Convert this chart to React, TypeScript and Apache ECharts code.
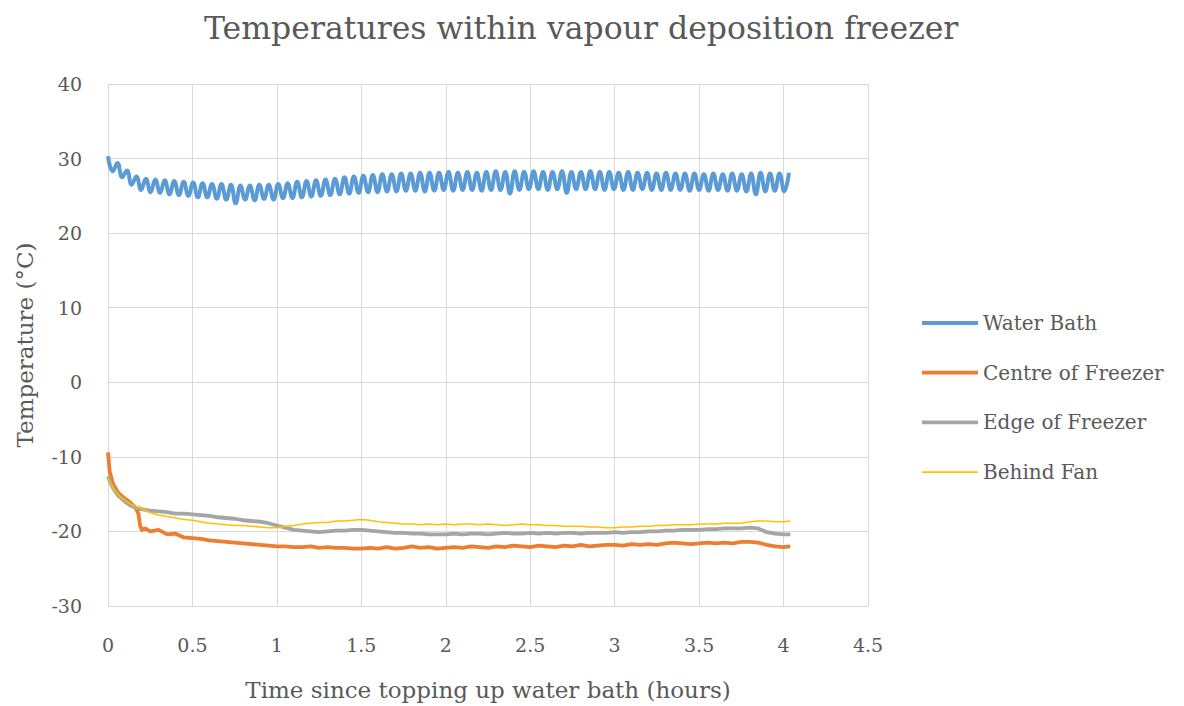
import React, { useEffect, useRef } from "react";
import * as echarts from "echarts";

// ---------------- data ----------------
const TITLE = "Temperatures within vapour deposition freezer";
const X_NAME = "Time since topping up water bath (hours)";
const Y_NAME = "Temperature (°C)";
const SERIES_NAMES = ["Water Bath", "Centre of Freezer", "Edge of Freezer", "Behind Fan"];

// Water bath: sampled at peaks / troughs of the thermostat oscillation (hours)
const waterTimes = [
  0, 0.028, 0.056, 0.084, 0.112, 0.14, 0.168, 0.196, 0.224, 0.252,
  0.28, 0.308, 0.336, 0.364, 0.392, 0.42, 0.448, 0.476, 0.504, 0.532,
  0.56, 0.588, 0.616, 0.644, 0.672, 0.7, 0.728, 0.756, 0.784, 0.812,
  0.84, 0.868, 0.896, 0.924, 0.952, 0.98, 1.008, 1.036, 1.064, 1.092,
  1.12, 1.148, 1.176, 1.204, 1.232, 1.26, 1.288, 1.316, 1.344, 1.372,
  1.4, 1.428, 1.456, 1.484, 1.512, 1.54, 1.568, 1.596, 1.624, 1.652,
  1.68, 1.708, 1.736, 1.764, 1.792, 1.82, 1.848, 1.876, 1.904, 1.932,
  1.96, 1.988, 2.016, 2.044, 2.072, 2.1, 2.128, 2.156, 2.184, 2.212,
  2.24, 2.268, 2.296, 2.324, 2.352, 2.38, 2.408, 2.436, 2.464, 2.492,
  2.52, 2.548, 2.576, 2.604, 2.632, 2.66, 2.688, 2.716, 2.744, 2.772,
  2.8, 2.828, 2.856, 2.884, 2.912, 2.94, 2.968, 2.996, 3.024, 3.052,
  3.08, 3.108, 3.136, 3.164, 3.192, 3.22, 3.248, 3.276, 3.304, 3.332,
  3.36, 3.388, 3.416, 3.444, 3.472, 3.5, 3.528, 3.556, 3.584, 3.612,
  3.64, 3.668, 3.696, 3.724, 3.752, 3.78, 3.808, 3.836, 3.864, 3.892,
  3.92, 3.948, 3.976, 4.004, 4.032,
];
const waterBath = [
  30.3, 28.3, 29.4, 27.5, 28.4, 26.5, 27.6, 25.8, 27.3, 25.5,
  27.2, 25.4, 27.1, 25.2, 27.0, 25.1, 26.9, 25.0, 26.8, 24.8,
  26.7, 24.8, 26.6, 24.6, 26.6, 24.5, 26.5, 24.0, 26.4, 24.5,
  26.4, 24.4, 26.5, 24.6, 26.5, 24.5, 26.6, 24.7, 26.7, 24.7,
  26.9, 24.8, 27.0, 24.9, 27.1, 25.0, 27.2, 25.1, 27.3, 25.2,
  27.5, 25.3, 27.6, 25.4, 27.7, 25.5, 27.8, 25.5, 27.9, 25.6,
  27.9, 25.6, 28.0, 25.7, 28.0, 25.7, 28.1, 25.6, 28.1, 25.7,
  28.1, 25.8, 28.2, 25.7, 28.1, 25.8, 28.2, 25.8, 28.1, 25.7,
  28.2, 25.8, 28.3, 25.8, 28.2, 25.3, 28.3, 25.8, 28.2, 25.9,
  28.3, 25.9, 28.2, 25.8, 28.2, 25.9, 28.3, 25.4, 28.2, 25.9,
  28.2, 25.9, 28.3, 25.9, 28.2, 25.8, 28.2, 25.9, 28.1, 25.8,
  28.2, 25.8, 28.1, 25.9, 28.1, 25.8, 28.0, 25.8, 28.1, 25.8,
  28.0, 25.8, 28.0, 25.7, 28.0, 25.8, 27.9, 25.7, 28.0, 25.8,
  27.9, 25.7, 28.0, 25.7, 27.9, 25.6, 28.0, 25.2, 28.1, 25.6,
  28.0, 25.7, 28.0, 25.6, 28.1,
];

// Freezer probes (hours)
const freezerTimes = [
  0, 0.01, 0.03, 0.06, 0.1, 0.13, 0.16, 0.18, 0.19, 0.2, 0.22, 0.25,
  0.3, 0.35, 0.4, 0.45, 0.5, 0.55, 0.6, 0.65, 0.7, 0.75, 0.8, 0.85, 0.9, 0.95,
  1.0, 1.05, 1.1, 1.15, 1.2, 1.25, 1.3, 1.35, 1.4, 1.45, 1.5, 1.55, 1.6, 1.65,
  1.7, 1.75, 1.8, 1.85, 1.9, 1.95, 2.0, 2.05, 2.1, 2.15, 2.2, 2.25, 2.3, 2.35,
  2.4, 2.45, 2.5, 2.55, 2.6, 2.65, 2.7, 2.75, 2.8, 2.85, 2.9, 2.95, 3.0, 3.05,
  3.1, 3.15, 3.2, 3.25, 3.3, 3.35, 3.4, 3.45, 3.5, 3.55, 3.6, 3.65, 3.7, 3.75,
  3.8, 3.85, 3.9, 3.95, 4.0, 4.04,
];
const centreOfFreezer = [
  -9.4, -12.0, -13.6, -14.8, -15.6, -16.1, -16.7, -17.6, -19.2, -19.8, -19.6, -20.0,
  -19.8, -20.4, -20.3, -20.8, -20.9, -21.0, -21.2, -21.3, -21.4, -21.5, -21.6, -21.7, -21.8, -21.9,
  -22.0, -22.0, -22.1, -22.1, -22.0, -22.2, -22.1, -22.2, -22.2, -22.3, -22.3, -22.2, -22.3, -22.1,
  -22.3, -22.2, -22.0, -22.2, -22.1, -22.3, -22.2, -22.1, -22.2, -22.0, -22.1, -22.2, -22.0, -22.1,
  -21.9, -22.0, -22.1, -21.9, -22.0, -22.1, -21.9, -22.0, -21.8, -22.0, -21.9, -21.8, -21.8, -21.9,
  -21.7, -21.8, -21.7, -21.8, -21.6, -21.5, -21.6, -21.7, -21.6, -21.5, -21.6, -21.5, -21.6, -21.4,
  -21.4, -21.5, -21.8, -22.0, -22.1, -22.0,
];
const edgeOfFreezer = [
  -12.6, -13.3, -14.2, -15.2, -16.0, -16.5, -16.8, -16.9, -17.0, -17.0, -17.1, -17.2,
  -17.3, -17.4, -17.6, -17.6, -17.7, -17.8, -17.9, -18.1, -18.2, -18.3, -18.5, -18.6, -18.7, -18.9,
  -19.2, -19.5, -19.8, -19.9, -20.0, -20.1, -20.0, -19.9, -19.9, -19.8, -19.8, -19.9, -20.0, -20.1,
  -20.2, -20.2, -20.3, -20.3, -20.4, -20.4, -20.4, -20.3, -20.4, -20.3, -20.3, -20.4, -20.3, -20.2,
  -20.3, -20.3, -20.2, -20.3, -20.2, -20.3, -20.2, -20.2, -20.3, -20.2, -20.2, -20.2, -20.1, -20.2,
  -20.1, -20.1, -20.0, -20.0, -19.9, -19.9, -19.8, -19.8, -19.8, -19.7, -19.7, -19.6, -19.6, -19.6,
  -19.5, -19.6, -20.1, -20.3, -20.4, -20.4,
];
const behindFan = [
  -12.8, -13.4, -14.2, -15.1, -15.8, -16.3, -16.6, -16.8, -16.7, -16.9, -17.2, -17.5,
  -17.8, -18.0, -18.2, -18.4, -18.5, -18.7, -18.9, -19.0, -19.1, -19.2, -19.2, -19.3, -19.4, -19.5,
  -19.5, -19.3, -19.2, -19.0, -18.9, -18.8, -18.8, -18.6, -18.6, -18.5, -18.4, -18.5, -18.7, -18.8,
  -18.9, -19.0, -19.0, -19.1, -19.0, -19.1, -19.0, -19.1, -19.0, -19.0, -19.1, -19.0, -19.1, -19.2,
  -19.1, -19.0, -19.1, -19.1, -19.2, -19.2, -19.3, -19.3, -19.3, -19.4, -19.4, -19.5, -19.5, -19.4,
  -19.4, -19.3, -19.3, -19.2, -19.2, -19.1, -19.1, -19.1, -19.0, -19.0, -19.0, -18.9, -18.9, -18.9,
  -18.7, -18.6, -18.6, -18.7, -18.7, -18.6,
];

const X_MIN = 0, X_MAX = 4.5, X_STEP = 0.5;
const Y_MIN = -30, Y_MAX = 40, Y_STEP = 10;

// ---------------- chart ----------------
const FONT = "'DejaVu Serif', 'Liberation Serif', serif";
const TXT = "#595959";
const GRID = "#D9D9D9";
const COLORS = ["#5B9BD5", "#ED7D31", "#A5A5A5", "#FFC000"];
const LINE_WIDTHS = [4, 3.8, 3.8, 1.6];

function zip(xs: number[], ys: number[]) {
  return ys.map((v, i) => [xs[i], v]);
}

export default function App() {
  const ref = useRef<HTMLDivElement>(null);
  useEffect(() => {
    if (!ref.current) return;
    const chart = echarts.init(ref.current, undefined, { renderer: "svg" });
    const smoothing = [0.45, 0, 0, 0];
    const datas = [
      zip(waterTimes, waterBath),
      zip(freezerTimes, centreOfFreezer),
      zip(freezerTimes, edgeOfFreezer),
      zip(freezerTimes, behindFan),
    ];
    chart.setOption({
      animation: false,
      backgroundColor: "#ffffff",
      color: COLORS,
      title: {
        text: TITLE,
        left: 199,
        top: 7,
        textStyle: { fontFamily: FONT, fontSize: 31.5, fontWeight: "normal", color: TXT },
      },
      grid: { left: 108, right: 316, top: 84, bottom: 100 },
      legend: {
        orient: "vertical",
        left: 917,
        top: 308,
        itemWidth: 56,
        itemHeight: 20,
        itemGap: 29.7,
        data: SERIES_NAMES.map((n, i) => ({
          name: n,
          icon: `path://M0,0 L56,0 L56,${LINE_WIDTHS[i]} L0,${LINE_WIDTHS[i]} Z`,
        })),
        textStyle: { fontFamily: FONT, fontSize: 20, color: TXT },
      },
      xAxis: {
        type: "value",
        min: X_MIN,
        max: X_MAX,
        interval: X_STEP,
        name: X_NAME,
        nameLocation: "middle",
        nameGap: 72,
        nameTextStyle: { fontFamily: FONT, fontSize: 23, color: TXT },
        axisLine: { show: true, lineStyle: { color: GRID, width: 1 } },
        axisTick: { show: false },
        axisLabel: { fontFamily: FONT, fontSize: 19, color: TXT, margin: 29 },
        splitLine: { show: true, lineStyle: { color: GRID, width: 1 } },
      },
      yAxis: {
        type: "value",
        min: Y_MIN,
        max: Y_MAX,
        interval: Y_STEP,
        name: Y_NAME,
        nameLocation: "middle",
        nameGap: 72,
        nameRotate: 90,
        nameTextStyle: { fontFamily: FONT, fontSize: 23, color: TXT },
        axisLine: { show: true, lineStyle: { color: GRID, width: 1 } },
        axisTick: { show: false },
        axisLabel: { fontFamily: FONT, fontSize: 19, color: TXT, margin: 26 },
        splitLine: { show: true, lineStyle: { color: GRID, width: 1 } },
      },
      series: SERIES_NAMES.map((n, i) => ({
        name: n,
        type: "line",
        data: datas[i],
        symbol: "none",
        smooth: smoothing[i],
        lineStyle: { width: LINE_WIDTHS[i], color: COLORS[i], join: "round" },
        itemStyle: { color: COLORS[i] },
        z: 2 + i,
      })),
    });
    return () => chart.dispose();
  }, []);
  return (
    <div
      ref={ref}
      style={{ position: "absolute", left: 0, top: 0, width: 1184, height: 706, background: "#fff" }}
    />
  );
}
